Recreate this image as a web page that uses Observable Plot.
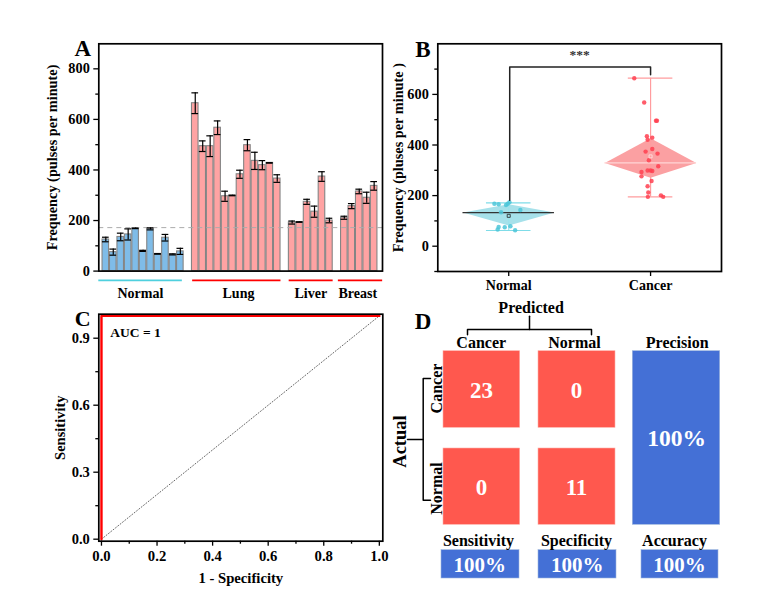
<!DOCTYPE html>
<html>
<head>
<meta charset="utf-8">
<script src="https://cdn.jsdelivr.net/npm/d3@7"></script>
<script src="https://cdn.jsdelivr.net/npm/@observablehq/plot@0.6"></script>
<style>
html,body{margin:0;padding:0;background:#fff;}
#chart{position:relative;width:764px;height:614px;overflow:hidden;background:#fff;}
#chart>div,#chart>svg{position:absolute;}
svg{overflow:visible;}
</style>
</head>
<body>
<div id="chart"></div>
<script>
// ---------- Panel A values ----------
const normalMeans = [125,75,135,145,169,80,167,68,132,66,78];
const normalErrs  = [9,12,15,22,1,2,4,1,13,2,12];
const lungMeans   = [664,494,494,567,296,299,383,498,436,419,428,366];
const lungErrs    = [41,21,41,27,20,1,16,22,34,18,1,15];
const liverMeans  = [192,194,274,235,374,200];
const liverErrs   = [6,1,10,22,19,9];
const breastMeans = [211,257,315,290,337];
const breastErrs  = [6,10,9,22,17];
const groupNames  = ["Normal","Lung","Liver","Breast"];
const cutoff = 172;

// ---------- Panel B values ----------
const boxNames  = ["Normal","Cancer"];
const boxMedian = [133,329];
const boxQ1     = [82,271];
const boxQ3     = [166,427];
const boxMin    = [62,195];
const boxMax    = [171,664];
const boxMean   = [120,355];
const normalPointValues = [168,166,163,168,174,134,143,76,66,75,79,63];
const normalPointJitter = [-.101,-.071,-.019,-.007,.005,-.054,.082,-.071,-.078,-.028,.012,.045];
const cancerPointValues = [664,568,496,496,435,429,421,384,374,366,340,316,299,299,297,293,276,258,237,212,201,195,195];
const cancerPointJitter = [-.115,-.045,.038,.045,-.026,.012,-.021,.012,-.035,.049,-.012,.054,-.021,0,.012,-.064,-.064,.007,-.021,-.016,.073,.089,-.019];

// ---------- Panel C values ----------
const rocFpr = [0,0,1];
const rocTpr = [0,1,1];
const aucLabel = "AUC = 1";

// ---------- Panel D values ----------
const matrixValues = [[23,0],[0,11]];
const matrixLabels = ["Cancer","Normal"];
const precisionLabel = "Precision";
const precisionValue = "100%";
const summaryNames  = ["Sensitivity","Specificity","Accuracy"];
const summaryValues = ["100%","100%","100%"];

// ---------- Styling / layout ----------
const font = '"Liberation Serif","Times New Roman",serif';
const baseStyle = {fontFamily:font,fontWeight:"bold",fontSize:"13.5px",color:"#000",background:"transparent"};
const colBlue="#7FBCE8", colPink="#FFA3A3", colTeal="#4FD0DE", colRed="#FF0000";
const mount = (plot,left,top)=>{plot.style.left=left+"px";plot.style.top=top+"px";document.getElementById("chart").appendChild(plot);};
const letter = (t,dx,dy,size=23)=>Plot.text([t],{frameAnchor:"top-left",dx,dy,textAnchor:"middle",lineAnchor:"bottom",fontSize:size,fontWeight:"bold",fill:"#000"});

// ---------- A ----------
const groupStarts=[0,12,25,32];
const groupSeries=[[normalMeans,normalErrs],[lungMeans,lungErrs],[liverMeans,liverErrs],[breastMeans,breastErrs]];
const bars=groupSeries.flatMap(([m,e],g)=>m.map((v,k)=>({i:groupStarts[g]+k,mean:v,err:e[k],group:groupNames[g]})));
const groupBars=[[-0.94,10.27,4.64],[11.65,23.5,17.8],[24.6,30.5,27.5],[31.2,37.14,33.8]]
  .map((d,k)=>({name:groupNames[k],x1:d[0],x2:d[1],xc:d[2]}));
mount(Plot.plot({
  width:350,height:270,marginLeft:58.3,marginRight:8,marginTop:13.3,marginBottom:29.4,
  style:baseStyle,
  x:{domain:[-0.94,37.12],axis:null},
  y:{domain:[0,899]},
  marks:[
    Plot.rectY(bars,{x1:d=>d.i-.44,x2:d=>d.i+.44,y1:0,y2:"mean",fill:d=>d.group==="Normal"?colBlue:colPink,stroke:"#858585",strokeWidth:1.1}),
    Plot.ruleY([cutoff],{stroke:"#ababab",strokeWidth:1,strokeDasharray:"5 4"}),
    Plot.ruleX(bars,{x:"i",y1:d=>d.mean-d.err,y2:d=>d.mean+d.err,stroke:"#000",strokeWidth:1.2}),
    Plot.ruleY(bars,{x1:d=>d.i-.45,x2:d=>d.i+.45,y:d=>d.mean+d.err,stroke:"#000",strokeWidth:1.2}),
    Plot.ruleY(bars,{x1:d=>d.i-.45,x2:d=>d.i+.45,y:d=>d.mean-d.err,stroke:"#000",strokeWidth:1.2}),
    Plot.axisY({ticks:[100,300,500,700],tickSize:3,tickFormat:()=>"",label:null,strokeWidth:1.3}),
    Plot.axisY({ticks:[0,200,400,600,800],tickSize:5,tickPadding:4,strokeWidth:1.3,label:"Frequency (pulses per minute)",labelAnchor:"center",labelArrow:"none",labelOffset:52,fontSize:14.3}),
    Plot.ruleY(groupBars,{x1:"x1",x2:"x2",y:-37,stroke:d=>d.name==="Normal"?colTeal:colRed,strokeWidth:1.8}),
    Plot.text(groupBars,{x:"xc",y:-89,text:"name",fontSize:14,fontWeight:"bold",fill:"#000"}),
    Plot.frame({stroke:"#000",strokeWidth:1.7}),
    letter("A",-16,12)
  ]
}),40,30);

// ---------- B ----------
const boxes=boxNames.map((n,k)=>({name:n,x:k+1,med:boxMedian[k],q1:boxQ1[k],q3:boxQ3[k],min:boxMin[k],max:boxMax[k],mean:boxMean[k]}));
const hw=.3225;
const diamond=boxes.flatMap(b=>[[b.x-hw,b.med],[b.x,b.q3],[b.x+hw,b.med],[b.x,b.q1],[b.x-hw,b.med]].map(([x,y])=>({x,y,name:b.name})));
const pts=[
  ...normalPointValues.map((v,k)=>({x:1+normalPointJitter[k],y:v,name:"Normal"})),
  ...cancerPointValues.map((v,k)=>({x:2+cancerPointJitter[k],y:v,name:"Cancer"}))
];
const bracketX=[1.007,1.007,2,2], bracketY=[182,708,708,678];
mount(Plot.plot({
  width:340,height:270,marginLeft:47.3,marginRight:9,marginTop:13.3,marginBottom:29,
  style:baseStyle,
  x:{domain:[.5,2.5]},
  y:{domain:[-100,800]},
  marks:[
    Plot.line(diamond,{x:"x",y:"y",z:"name",fill:d=>d.name==="Normal"?"#A6E1EA":"#FBA0A2",stroke:"none"}),
    Plot.ruleX(boxes,{x:"x",y1:"min",y2:"max",stroke:d=>d.name==="Normal"?"#9BE3EC":"#FF9C9E",strokeWidth:1.2}),
    Plot.ruleY(boxes,{x1:d=>d.x-.157,x2:d=>d.x+.157,y:"min",stroke:d=>d.name==="Normal"?"#7FDCE8":"#FF9C9E",strokeWidth:1.2}),
    Plot.ruleY(boxes,{x1:d=>d.x-.157,x2:d=>d.x+.157,y:"max",stroke:d=>d.name==="Normal"?"#7FDCE8":"#FF9C9E",strokeWidth:1.2}),
    Plot.ruleY(boxes,{x1:d=>d.x-hw,x2:d=>d.x+hw,y:"med",stroke:d=>d.name==="Normal"?"#333":"#FFD5D5",strokeWidth:1.2}),
    Plot.dot(pts,{x:"x",y:"y",r:2.2,fill:d=>d.name==="Normal"?"#4CC6D8":"#FF3F50",fillOpacity:.85,stroke:"none"}),
    Plot.dot(boxes,{x:"x",y:"mean",symbol:"square",r:1.7,fill:"none",stroke:d=>d.name==="Normal"?"#222":"#FFE5E5",strokeWidth:.8}),
    Plot.line(bracketX.map((x,k)=>({x,y:bracketY[k]})),{x:"x",y:"y",stroke:"#222",strokeWidth:1.5}),
    Plot.text(["***"],{x:1.5,y:757,fontSize:13.5,fontWeight:"bold",fill:"#333"}),
    Plot.axisY({ticks:[-100,100,300,500,700],tickSize:3,tickFormat:()=>"",label:null,strokeWidth:1.3}),
    Plot.axisY({ticks:[0,200,400,600],tickSize:5,tickPadding:4,strokeWidth:1.3,label:"Frequency (pluses per minute )",labelAnchor:"center",labelArrow:"none",labelOffset:45,fontSize:14.3}),
    Plot.axisX({ticks:[1,2],tickSize:5,tickPadding:4,strokeWidth:1.3,tickFormat:d=>boxNames[d-1],label:null,fontSize:14}),
    Plot.frame({stroke:"#000",strokeWidth:1.7}),
    letter("B",-15,13)
  ]
}),390,30);

// ---------- C ----------
mount(Plot.plot({
  width:340,height:300,marginLeft:48.3,marginRight:7.7,marginTop:13.7,marginBottom:59.3,
  style:baseStyle,
  x:{domain:[-.0096,1.0125]},
  y:{domain:[-.009,1.0075]},
  marks:[
    Plot.line([[0,0],[1,1]],{x:d=>d[0],y:d=>d[1],stroke:"#555",strokeWidth:.9,strokeDasharray:"1 2"}),
    Plot.line(rocFpr.map((x,k)=>({x,y:rocTpr[k]})),{x:"x",y:"y",stroke:colRed,strokeWidth:2.4}),
    Plot.text([aucLabel],{x:.032,y:.924,textAnchor:"start",fontSize:13.5,fontWeight:"bold",fill:"#000"}),
    Plot.axisY({ticks:[.15,.45,.75],tickSize:3,tickFormat:()=>"",label:null,strokeWidth:1.3}),
    Plot.axisY({ticks:[0,.3,.6,.9],tickSize:5,tickPadding:4,strokeWidth:1.3,tickFormat:d3.format(".1f"),label:"Sensitivity",labelAnchor:"center",labelArrow:"none",labelOffset:44,fontSize:14.5}),
    Plot.axisX({ticks:[.1,.3,.5,.7,.9],tickSize:3,tickFormat:()=>"",label:null,strokeWidth:1.3}),
    Plot.axisX({ticks:[0,.2,.4,.6,.8,1],tickSize:5,tickPadding:4,strokeWidth:1.3,tickFormat:d3.format(".1f"),label:"1 - Specificity",labelAnchor:"center",labelArrow:"none",labelOffset:42,fontSize:14.7}),
    Plot.frame({stroke:"#000",strokeWidth:1.7}),
    letter("C",-16,12,22)
  ]
}),50,300);

// ---------- D (layout table is separate from the values) ----------
const colEdges=[[443,519.7],[538,615]], rowEdges=[[350.7,427.3],[448,524.3]];
const colText=[481,576], rowText=[390,487];
const matrix=matrixValues.flatMap((row,r)=>row.map((v,c)=>({v,x1:colEdges[c][0],x2:colEdges[c][1],y1:rowEdges[r][0],y2:rowEdges[r][1],tx:colText[c],ty:rowText[r]})));
const sumEdges=[[441,519],[538,616],[641,718]], sumNameX=[478,576,674], sumValX=[479.3,576.7,679];
const summary=summaryNames.map((n,k)=>({n,v:summaryValues[k],x1:sumEdges[k][0],x2:sumEdges[k][1],nx:sumNameX[k],vx:sumValX[k]}));
const paths=[
  [[529,315.7],[529,329]],
  [[467,334.3],[467,329],[591,329],[591,334.3]],
  [[407,439],[422.7,439]],
  [[430,378],[422.7,378],[422.7,499.7],[430,499.7]]
].flatMap((p,id)=>p.map(([x,y])=>({x,y,id})));
const headers=[
  {t:"Predicted",x:530.6,y:307,s:16},
  {t:matrixLabels[0],x:480.7,y:342.5,s:16},
  {t:matrixLabels[1],x:574,y:342.5,s:16},
  {t:precisionLabel,x:676.7,y:342.5,s:16}
];
const sideLabels=[
  {t:"Actual",x:400,y:441,s:18.5},
  {t:matrixLabels[0],x:436,y:388,s:16},
  {t:matrixLabels[1],x:436,y:488,s:16}
];
mount(Plot.plot({
  width:340,height:300,margin:0,
  style:baseStyle,
  x:{domain:[390,730],range:[0,340],axis:null},
  y:{domain:[300,600],range:[0,300],axis:null},
  marks:[
    Plot.rect(matrix,{x1:"x1",x2:"x2",y1:"y1",y2:"y2",fill:"#FF584E",stroke:"#FFB0A8",strokeWidth:.6}),
    Plot.rect([precisionValue],{x1:632.3,x2:719.7,y1:350.7,y2:524.3,fill:"#4470D6",stroke:"#9DB6DC",strokeWidth:.6}),
    Plot.rect(summary,{x1:"x1",x2:"x2",y1:549.7,y2:578,fill:"#4470D6",stroke:"#9DB6DC",strokeWidth:.6}),
    Plot.text(matrix,{x:"tx",y:"ty",text:d=>String(d.v),fill:"#fff",fontSize:23,fontWeight:"bold"}),
    Plot.text([precisionValue],{x:676,y:438,fill:"#fff",fontSize:23.5,fontWeight:"bold"}),
    Plot.text(summary,{x:"vx",y:565,text:"v",fill:"#fff",fontSize:21,fontWeight:"bold"}),
    Plot.text(summary,{x:"nx",y:540,text:"n",fill:"#000",fontSize:16,fontWeight:"bold"}),
    Plot.text(headers,{x:"x",y:"y",text:"t",fontSize:"s",fill:"#000",fontWeight:"bold"}),
    Plot.text(sideLabels,{x:"x",y:"y",text:"t",fontSize:"s",rotate:-90,fill:"#000",fontWeight:"bold"}),
    Plot.line(paths,{x:"x",y:"y",z:"id",stroke:"#000",strokeWidth:1.5}),
    Plot.text(["D"],{x:422.5,y:328.5,lineAnchor:"bottom",fontSize:23,fontWeight:"bold",fill:"#000"})
  ]
}),390,300);
</script>
</body>
</html>
